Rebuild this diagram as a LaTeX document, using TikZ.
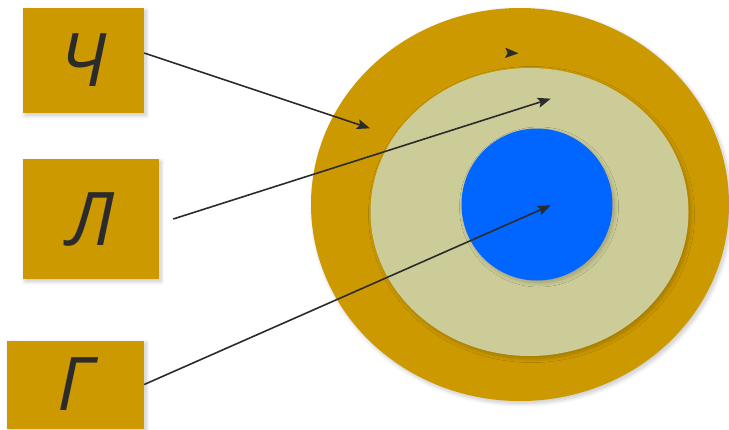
\documentclass[tikz,border=0pt]{standalone}
\usepackage{fontspec}
\setmainfont{Open Sans}
\usetikzlibrary{shapes.geometric,arrows.meta,shadows.blur}
\definecolor{gold}{HTML}{CC9900}
\definecolor{olive}{HTML}{CCCC99}
\definecolor{bluec}{HTML}{0066FF}
\definecolor{ink}{HTML}{2B2B2B}
\tikzset{
  softshadow/.style={blur shadow={shadow xshift=2pt,shadow yshift=-2.5pt,shadow blur radius=4pt,shadow blur steps=10,shadow opacity=22}},
  letterbox/.style={rectangle,fill=gold,inner sep=0pt,softshadow,text=ink,text depth=0pt,
    font=\fontsize{74}{80}\selectfont\itshape},
  ring/.style={ellipse,inner sep=0pt,softshadow},
  arr/.style={draw=ink,line width=1.6pt,-{Stealth[length=13pt,width=10pt,inset=2.5pt]}},
}
\begin{document}
\begin{tikzpicture}[x=1pt,y=-1pt]
\useasboundingbox (0,0) rectangle (729,429);
\node[ring,fill=gold,minimum width=418pt,minimum height=393pt] (outer) at (520,204.5) {};
\node[ring,fill=olive,minimum width=318pt,minimum height=288pt] (middle) at (529.5,212) {};
\node[ring,fill=bluec,minimum width=151pt,minimum height=152pt] (inner) at (537,204.5) {};
\node[letterbox,minimum width=121pt,minimum height=105pt] (ch) at (83.5,60.5) {Ч};
\node[letterbox,minimum width=136pt,minimum height=120pt] (l) at (91,219) {Л};
\node[letterbox,minimum width=137pt,minimum height=88pt] (g) at (75.5,384.5) {Г};
\coordinate (tipch) at (370,128.3);
\coordinate (tipl) at (550.7,98.7);
\coordinate (tipg) at (550.7,205.3);
\coordinate (straya) at (504,52.8);
\coordinate (strayb) at (518.3,53.3);
\draw[arr] ([yshift=7.5pt]ch.east) -- (tipch);
\draw[arr] ([xshift=14pt]l.east) -- (tipl);
\draw[arr] (g.east) -- (tipg);
\draw[arr,line width=0.1pt] (straya) -- (strayb);
\end{tikzpicture}
\end{document}
